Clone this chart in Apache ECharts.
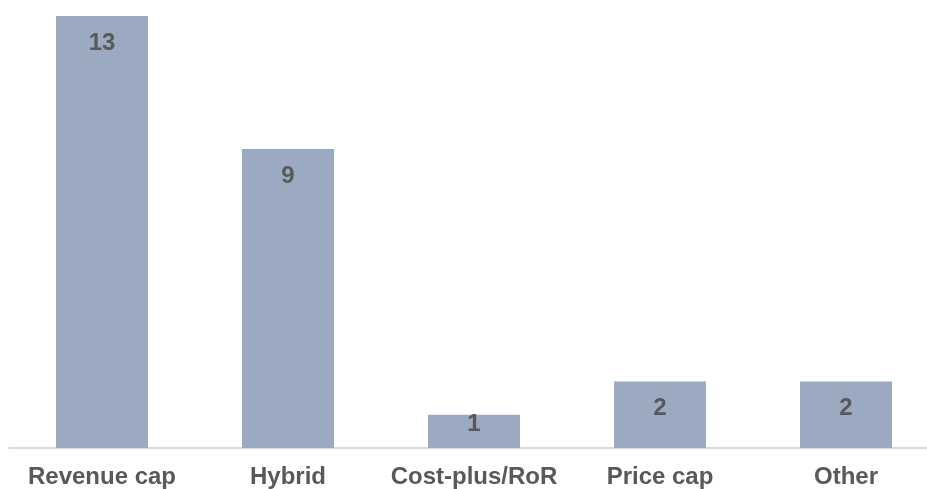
<!DOCTYPE html>
<html>
<head>
<meta charset="utf-8">
<script src="https://cdn.jsdelivr.net/npm/echarts@6/dist/echarts.min.js"></script>
<style>
  html, body { margin: 0; padding: 0; background: #fff; overflow: hidden; }
  .demo { width: 939px; height: 489px; }
</style>
</head>
<body>
<div class="demo"></div>
<script>
const categories = ['Revenue cap', 'Hybrid', 'Cost-plus/RoR', 'Price cap', 'Other']
const counts = [13, 9, 1, 2, 2]

;(function () {
  const chartinstance = echarts.init(document.querySelector('.demo'))
  // short bar: the label sits closer to the top so it fits
  const barData = counts.map(v => v < 2 ? { value: v, label: { distance: -2 } } : v)
  const option = {
    animation: false,
    grid: {
      left: 9,
      right: 0,
      top: 16,
      bottom: 39
    },
    xAxis: {
      type: 'category',
      data: categories,
      axisLine: { lineStyle: { color: '#d9d9d9', width: 2 } },
      axisTick: { show: false },
      axisLabel: {
        interval: 0,
        margin: 17,
        color: '#595959',
        fontSize: 24,
        fontWeight: 'bold',
        fontFamily: 'Liberation Sans'
      }
    },
    yAxis: {
      type: 'value',
      min: 0,
      max: 13,
      show: false,
      splitLine: { show: false }
    },
    series: [
      {
        type: 'bar',
        data: barData,
        barWidth: 92,
        itemStyle: { color: '#9baac1' },
        label: {
          show: true,
          position: 'insideTop',
          distance: 15,
          color: '#595959',
          fontSize: 24,
          fontWeight: 'bold',
          fontFamily: 'Liberation Sans'
        }
      }
    ]
  }
  option && chartinstance.setOption(option)
  window.addEventListener('resize', () => {
    chartinstance.resize()
  })
})()
</script>
</body>
</html>
